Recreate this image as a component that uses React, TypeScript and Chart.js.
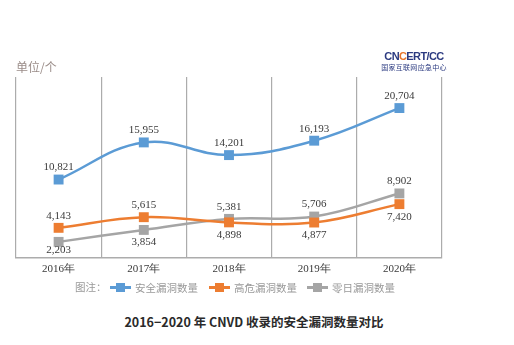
import React, { useEffect, useRef } from "react";
import { Chart, registerables } from "chart.js";

Chart.register(...registerables);

const categories = ["2016年", "2017年", "2018年", "2019年", "2020年"];
const totalVulns = [10821, 15955, 14201, 16193, 20704];
const highRisk = [4143, 5615, 4898, 4877, 7420];
const zeroDay = [2203, 3854, 5381, 5706, 8902];
const seriesNames = ["安全漏洞数量", "高危漏洞数量", "零日漏洞数量"];
const colors = ["#5b9bd5", "#ed7d31", "#a5a5a5"];
// label placement: 1 = above, -1 = below
const labelPos = [
  [1, 1, 1, 1, 1],
  [1, 1, -1, -1, -1],
  [-1, -1, 1, 1, 1],
];

const fmt = (v: number) => v.toLocaleString("en-US");

const labelPlugin = {
  id: "valueLabels",
  afterDatasetsDraw(chart: any) {
    const ctx = chart.ctx;
    ctx.save();
    ctx.font = "11px 'Liberation Serif', serif";
    ctx.fillStyle = "#3a3a3a";
    ctx.textAlign = "center";
    ctx.textBaseline = "middle";
    const bottom = chart.chartArea.bottom;
    chart.data.datasets.forEach((ds: any, di: number) => {
      const meta = chart.getDatasetMeta(di);
      const si = seriesNames.indexOf(ds.label);
      meta.data.forEach((pt: any, i: number) => {
        const dir = labelPos[si][i];
        let y = dir > 0 ? pt.y - 12 : pt.y + 12.5;
        if (dir < 0 && y > bottom - 8) y = bottom - 8;
        ctx.fillText(fmt(ds.data[i]), pt.x, y);
      });
    });
    ctx.restore();
  },
};

export default function App() {
  const ref = useRef<HTMLCanvasElement>(null);
  useEffect(() => {
    if (!ref.current) return;
    const mk = (data: number[], i: number) => ({
      label: seriesNames[i],
      data,
      borderColor: colors[i],
      backgroundColor: colors[i],
      borderWidth: 2.5,
      pointStyle: "rect" as const,
      pointRadius: 7,
      pointHoverRadius: 7,
      pointBorderWidth: 0,
      tension: 0.4,
      clip: false as any,
    });
    const chart = new Chart(ref.current, {
      type: "line",
      data: {
        labels: categories,
        datasets: [mk(totalVulns, 0), mk(highRisk, 1), mk(zeroDay, 2)],
      },
      options: {
        animation: false,
        responsive: false,
        maintainAspectRatio: false,
        layout: { padding: { left: 16, right: 72, top: 77, bottom: 4 } },
        plugins: { legend: { display: false }, tooltip: { enabled: false } },
        scales: {
          x: {
            offset: true,
            grid: { offset: true, color: "#acacac", lineWidth: 1.2, drawTicks: false },
            border: { display: true, color: "#acacac", width: 1.5 },
            ticks: {
              padding: 5,
              color: "#3a3a3a",
              font: { family: "'Liberation Serif', serif", size: 11 },
            },
          },
          y: { display: false, min: 0, max: 25000 },
        },
      },
      plugins: [labelPlugin],
    });
    return () => chart.destroy();
  }, []);

  const legendItem = (i: number, left: number) => (
    <div
      key={i}
      style={{ position: "absolute", left, top: 279, height: 16, display: "flex", alignItems: "center" }}
    >
      <div style={{ position: "relative", width: 21, height: 16, marginRight: 4 }}>
        <div style={{ position: "absolute", left: 0, top: 7, width: 21, height: 3, background: colors[i] }} />
        <div style={{ position: "absolute", left: 6, top: 4, width: 9, height: 9, background: colors[i] }} />
      </div>
      <span style={{ color: "#999999", fontSize: 10.5, fontFamily: "'Noto Sans CJK SC', sans-serif" }}>
        {seriesNames[i]}
      </span>
    </div>
  );

  return (
    <div style={{ position: "absolute", left: 0, top: 0, width: 514, height: 345, background: "#fff", overflow: "hidden" }}>
      <canvas ref={ref} width={514} height={285} style={{ position: "absolute", left: 0, top: 0, width: 514, height: 285 }} />
      <div style={{ position: "absolute", left: 16, top: 59, fontSize: 12, color: "#9a8c88", fontFamily: "'Noto Sans CJK SC', sans-serif", lineHeight: "16px" }}>
        单位/个
      </div>
      <div style={{ position: "absolute", left: 378, top: 51, width: 72, textAlign: "center", fontFamily: "'Liberation Sans', Arial, sans-serif", lineHeight: 1 }}>
        <div style={{ fontSize: 11, fontWeight: 700, color: "#2b3a80", letterSpacing: -0.6 }}>
          CN<span style={{ color: "#e8752a" }}>C</span>ERT/CC
        </div>
        <div style={{ fontSize: 7, color: "#2b3a80", fontFamily: "'Noto Sans CJK SC', sans-serif", marginTop: 2, letterSpacing: 0.3 }}>
          国家互联网应急中心
        </div>
      </div>
      <div style={{ position: "absolute", left: 75, top: 279, height: 16, lineHeight: "16px", color: "#999999", fontSize: 10.5, fontFamily: "'Noto Sans CJK SC', sans-serif" }}>
        图注：
      </div>
      {legendItem(0, 110)}
      {legendItem(1, 209)}
      {legendItem(2, 307)}
      <div style={{ position: "absolute", left: 0, width: 508, top: 313, textAlign: "center", fontSize: 12.5, fontWeight: 700, color: "#2a2a2a", fontFamily: "'Noto Sans CJK SC', sans-serif", lineHeight: "18px" }}>
        2016−2020 年 CNVD 收录的安全漏洞数量对比
      </div>
    </div>
  );
}
